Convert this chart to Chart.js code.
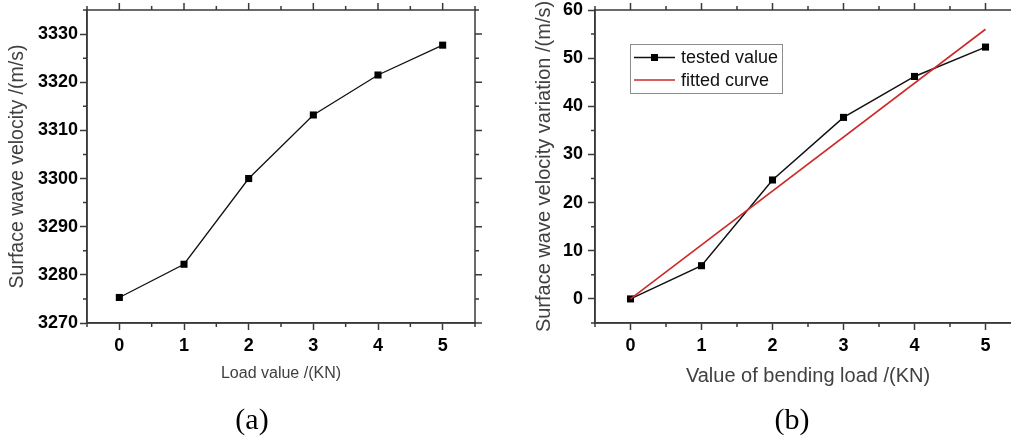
<!DOCTYPE html>
<html>
<head>
<meta charset="utf-8">
<script src="https://cdn.jsdelivr.net/npm/chart.js@4.4.1/dist/chart.umd.min.js"></script>
<style>
  html, body { margin: 0; padding: 0; background: #fff; overflow: hidden; }
  body { width: 1011px; height: 445px; position: relative; }
  .panel { position: absolute; top: 0; height: 445px; }
  #wrapA { left: 0; width: 490px; }
  #wrapB { left: 520px; width: 510px; }
  .cap { position: absolute; top: 402px; width: 100px; text-align: center; line-height: 40px;
         font: 30px "Liberation Serif", "Times New Roman", serif; color: #000; }
</style>
</head>
<body>
<div class="panel" id="wrapA"><canvas id="chartA"></canvas></div>
<div class="panel" id="wrapB"><canvas id="chartB"></canvas></div>
<div class="cap" style="left:202px">(a)</div>
<div class="cap" style="left:742px">(b)</div>
<script>
// (a) surface wave velocity vs load
const loadA = [0, 1, 2, 3, 4, 5];
const velocityA = [3275.3, 3282.2, 3300.0, 3313.2, 3321.5, 3327.7];

// (b) velocity variation vs bending load
const loadB = [0, 1, 2, 3, 4, 5];
const testedB = [0, 6.9, 24.7, 37.7, 46.2, 52.3];
const fitLoadB = [0, 5];
const fitB = [0, 56.0];

// tick labels
const xTicks = [0, 1, 2, 3, 4, 5];
const yTicksA = [3270, 3280, 3290, 3300, 3310, 3320, 3330];
const yTicksB = [0, 10, 20, 30, 40, 50, 60];

const FAMILY = "'Liberation Sans', Arial, sans-serif";
const AXIS = '#3a3a3a';
const tickFont = { family: FAMILY, weight: 'bold', size: 18 };
const pts = (xs, ys) => xs.map((x, i) => ({ x: x, y: ys[i] }));
const setTicks = (list) => (s) => { s.ticks = list.map(v => ({ value: v })); };

// closed frame with mirrored major ticks and minor ticks on every side
const framePlugin = {
  id: 'frame',
  afterDraw(chart, args, o) {
    const { ctx, chartArea: a } = chart;
    const x = chart.scales.x, y = chart.scales.y;
    const isMajor = (list, v) => list.some(t => Math.abs(t.value - v) < 1e-6);
    ctx.save();
    ctx.strokeStyle = o.color;
    ctx.lineWidth = o.width;
    ctx.strokeRect(a.left, a.top, a.right - a.left, a.bottom - a.top);
    ctx.beginPath();
    for (let v = x.min; v <= x.max + 1e-6; v += o.xMinor) {
      const px = x.getPixelForValue(v);
      const major = isMajor(x.ticks, v);
      const len = major ? o.major : o.minor;
      ctx.moveTo(px, a.top); ctx.lineTo(px, a.top - len);
      if (!major) { ctx.moveTo(px, a.bottom); ctx.lineTo(px, a.bottom + len); }
    }
    for (let v = y.min; v <= y.max + 1e-6; v += o.yMinor) {
      const py = y.getPixelForValue(v);
      const major = isMajor(y.ticks, v);
      const len = major ? o.major : o.minor;
      ctx.moveTo(a.right, py); ctx.lineTo(a.right + len, py);
      if (!major) { ctx.moveTo(a.left, py); ctx.lineTo(a.left - len, py); }
    }
    ctx.stroke();
    ctx.restore();
  }
};

// boxed legend inside the plot area
const boxLegend = {
  id: 'boxLegend',
  afterDraw(chart, args, o) {
    if (!o.show) return;
    const { ctx, chartArea: a } = chart;
    const left = a.left + o.dx, top = a.top + o.dy;
    ctx.save();
    ctx.fillStyle = '#fff';
    ctx.fillRect(left, top, o.w, o.h);
    ctx.strokeStyle = '#8c8c8c';
    ctx.lineWidth = 1;
    ctx.strokeRect(left + 0.5, top + 0.5, o.w, o.h);
    ctx.font = o.font;
    ctx.textBaseline = 'middle';
    chart.data.datasets.forEach((ds, i) => {
      const cy = top + o.rowTop + i * o.rowGap;
      ctx.strokeStyle = ds.borderColor;
      ctx.lineWidth = ds.borderWidth;
      ctx.beginPath();
      ctx.moveTo(left + 4, cy); ctx.lineTo(left + 45, cy);
      ctx.stroke();
      if (ds.pointRadius > 0) {
        ctx.fillStyle = ds.pointBackgroundColor;
        ctx.fillRect(left + 24.5 - 3.5, cy - 3.5, 7, 7);
      }
      ctx.fillStyle = '#111';
      ctx.fillText(ds.label, left + 51, cy + 1);
    });
    ctx.restore();
  }
};

function axisTitle(text, size, pad) {
  return { display: true, text: text, color: '#404040', font: { family: FAMILY, size: size }, padding: pad };
}

function baseScales(yMin, yMax, yList, yWidth, xHeight, xTitle, yTitle, tickLen, yPad) {
  return {
    x: {
      type: 'linear', min: -0.5, max: 5.5,
      afterBuildTicks: setTicks(xTicks),
      afterFit: s => { s.height = xHeight; s.paddingLeft = 0; s.paddingRight = 0; },
      grid: { drawOnChartArea: false, tickLength: tickLen, tickColor: AXIS, tickWidth: 1.5 },
      border: { color: AXIS, width: 1.5 },
      ticks: { font: tickFont, color: '#000', padding: 5, maxRotation: 0, autoSkip: false, callback: v => String(v) },
      title: xTitle
    },
    y: {
      min: yMin, max: yMax,
      afterBuildTicks: setTicks(yList),
      afterFit: s => { s.width = yWidth; s.paddingTop = 0; s.paddingBottom = 0; },
      grid: { drawOnChartArea: false, tickLength: tickLen, tickColor: AXIS, tickWidth: 1.5 },
      border: { color: AXIS, width: 1.5 },
      ticks: { font: tickFont, color: '#000', padding: yPad, autoSkip: false, callback: v => String(v) },
      title: yTitle
    }
  };
}

new Chart(document.getElementById('chartA'), {
  type: 'line',
  data: {
    datasets: [{
      label: 'velocity',
      data: pts(loadA, velocityA),
      borderColor: '#111', borderWidth: 1.3,
      pointStyle: 'rect', pointRadius: 5, pointBorderWidth: 0,
      pointBackgroundColor: '#000', pointBorderColor: '#000'
    }]
  },
  options: {
    responsive: true, maintainAspectRatio: false, animation: false, events: [],
    layout: { padding: { top: 10, right: 15, bottom: 62, left: 0 } },
    plugins: {
      legend: { display: false }, tooltip: { enabled: false },
      frame: { color: AXIS, width: 1.5, major: 7, minor: 4, xMinor: 0.5, yMinor: 5 },
      boxLegend: { show: false }
    },
    scales: baseScales(3270, 3335, yTicksA, 87, 60,
      axisTitle('Load value /(KN)', 16, { top: 0, bottom: 0 }),
      axisTitle('Surface wave velocity /(m/s)', 19.5, { top: 6, bottom: 0 }), 7, 2)
  },
  plugins: [framePlugin, boxLegend]
});

new Chart(document.getElementById('chartB'), {
  type: 'line',
  data: {
    datasets: [{
      label: 'tested value',
      data: pts(loadB, testedB),
      order: 1,
      borderColor: '#111', borderWidth: 1.5,
      pointStyle: 'rect', pointRadius: 5, pointBorderWidth: 0,
      pointBackgroundColor: '#000', pointBorderColor: '#000'
    }, {
      label: 'fitted curve',
      data: pts(fitLoadB, fitB),
      order: 0,
      borderColor: '#cc2a2a', borderWidth: 1.6,
      pointRadius: 0
    }]
  },
  options: {
    responsive: true, maintainAspectRatio: false, animation: false, events: [],
    layout: { padding: { top: 10, right: 9, bottom: 57, left: 0 } },
    plugins: {
      legend: { display: false }, tooltip: { enabled: false },
      frame: { color: AXIS, width: 1.5, major: 7, minor: 4, xMinor: 0.5, yMinor: 5 },
      boxLegend: { show: true, dx: 35, dy: 34, w: 152, h: 49, rowTop: 13.5, rowGap: 22.5,
                   font: "18px 'Liberation Sans', Arial, sans-serif" }
    },
    scales: baseScales(-5, 60, yTicksB, 75, 65,
      axisTitle('Value of bending load /(KN)', 20, { top: 0, bottom: 0 }),
      axisTitle('Surface wave velocity variation /(m/s)', 20, { top: 12, bottom: 0 }), 7, 5)
  },
  plugins: [framePlugin, boxLegend]
});
</script>
</body>
</html>
